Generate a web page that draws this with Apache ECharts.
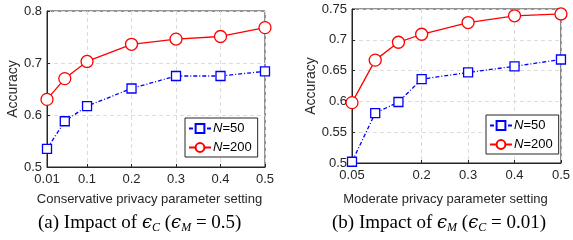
<!DOCTYPE html>
<html>
<head>
  <meta charset="utf-8">
  <title>Accuracy vs privacy parameter</title>
  <script src="https://cdn.jsdelivr.net/npm/echarts@6/dist/echarts.min.js"></script>
  <style>
    html, body { margin: 0; padding: 0; background: #fff; }
    #main { width: 573px; height: 240px; }
  </style>
</head>
<body>
  <div id="main"></div>
  <script type="text/javascript">
    // (a) conservative setting, eps_C on x
    var epsC = [0.01, 0.05, 0.1, 0.2, 0.3, 0.4, 0.5];
    var accC50 = [0.535, 0.588, 0.617, 0.651, 0.675, 0.675, 0.684];
    var accC200 = [0.630, 0.670, 0.703, 0.736, 0.746, 0.751, 0.768];
    var ticksC = [0.01, 0.1, 0.2, 0.3, 0.4, 0.5];

    // (b) moderate setting, eps_M on x
    var epsM = [0.05, 0.1, 0.15, 0.2, 0.3, 0.4, 0.5];
    var accM50 = [0.502, 0.581, 0.599, 0.636, 0.647, 0.657, 0.668];
    var accM200 = [0.598, 0.667, 0.696, 0.709, 0.728, 0.739, 0.742];
    var ticksM = [0.05, 0.2, 0.3, 0.4, 0.5];

    var seriesNames = ['N=50', 'N=200'];

    var myChart = echarts.init(document.getElementById('main'));

    var axisColor = '#262626';
    var sans = 'Liberation Sans, Arial, sans-serif';

    function pairs(xs, ys) {
      return xs.map(function (x, i) { return [x, ys[i]]; });
    }

    // matlab style labels, no trailing zeros
    function shortNum(v) {
      return String(+v.toFixed(3));
    }

    function xAxisOf(idx, ticks, name, gap, shift) {
      return {
        type: 'value',
        gridIndex: idx,
        min: ticks[0],
        max: ticks[ticks.length - 1],
        name: name,
        nameLocation: 'middle',
        nameGap: gap,
        nameTextStyle: { color: axisColor, fontSize: 13, fontFamily: sans, padding: [0, shift, 0, 0] },
        axisLine: { lineStyle: { color: axisColor } },
        axisTick: { inside: true, length: 3, customValues: ticks, lineStyle: { color: axisColor } },
        axisLabel: { customValues: ticks, color: axisColor, fontSize: 13, fontFamily: sans, margin: 6,
          formatter: shortNum },
        splitLine: { show: true, lineStyle: { color: '#dcdcdc', type: [4, 3] } }
      };
    }

    function yAxisOf(idx, min, max, step, gap) {
      return {
        type: 'value',
        gridIndex: idx,
        min: min,
        max: max,
        interval: step,
        name: 'Accuracy',
        nameLocation: 'middle',
        nameGap: gap,
        nameTextStyle: { color: axisColor, fontSize: 14, fontFamily: sans },
        axisLine: { show: true, lineStyle: { color: axisColor } },
        axisTick: { show: true, inside: true, length: 3, lineStyle: { color: axisColor } },
        axisLabel: { color: axisColor, fontSize: 13, fontFamily: sans, margin: 5, formatter: shortNum },
        splitLine: { show: true, lineStyle: { color: '#dcdcdc', type: [4, 3] } }
      };
    }

    function blueSeries(x, y, data) {
      return {
        name: seriesNames[0], type: 'line', xAxisIndex: x, yAxisIndex: y,
        data: data, symbol: 'rect', symbolSize: 9, showAllSymbol: true,
        itemStyle: { color: '#fff', borderColor: '#0000ff', borderWidth: 1.3 },
        lineStyle: { color: '#0000ff', width: 1.3, type: [4, 2, 1, 2] },
        emphasis: { disabled: true }, z: 3
      };
    }

    function redSeries(x, y, data) {
      return {
        name: seriesNames[1], type: 'line', xAxisIndex: x, yAxisIndex: y,
        data: data, symbol: 'circle', symbolSize: 12, showAllSymbol: true,
        itemStyle: { color: '#fff', borderColor: '#ff0000', borderWidth: 1.3 },
        lineStyle: { color: '#ff0000', width: 1.3 },
        emphasis: { disabled: true }, z: 3
      };
    }

    function legendAt(left, top) {
      return {
        data: seriesNames,
        orient: 'vertical',
        left: left,
        top: top,
        backgroundColor: '#fff',
        borderColor: axisColor,
        borderWidth: 1,
        borderRadius: 0,
        padding: [4, 6, 3, 3],
        itemWidth: 22,
        itemHeight: 11,
        itemGap: 6,
        selectedMode: false,
        formatter: function (n) { return n.replace('N', '{i|N}'); },
        textStyle: {
          color: '#000', fontSize: 13, fontFamily: sans, padding: [0, 0, 0, -3],
          rich: { i: { fontStyle: 'italic', fontSize: 13, fontFamily: sans, color: '#000' } }
        }
      };
    }

    var serif = 'Liberation Serif, DejaVu Serif, serif';
    var capRich = {
      t: { fontSize: 19, fontFamily: serif, color: '#000', verticalAlign: 'middle', lineHeight: 20 },
      e: { fontSize: 18, fontFamily: 'DejaVu Serif, serif', fontStyle: 'italic', color: '#000', verticalAlign: 'middle', lineHeight: 20 },
      s: { fontSize: 12, fontFamily: serif, fontStyle: 'italic', color: '#000', verticalAlign: 'bottom', lineHeight: 11 }
    };

    var option = {
      animation: false,
      backgroundColor: '#fff',
      grid: [
        { left: 47, right: 308, top: 11, bottom: 73, show: true, borderColor: axisColor, borderWidth: 1, backgroundColor: 'transparent' },
        { left: 352, right: 9, top: 9, bottom: 77, show: true, borderColor: axisColor, borderWidth: 1, backgroundColor: 'transparent' }
      ],
      xAxis: [
        xAxisOf(0, ticksC, 'Conservative privacy parameter setting', 26, 13),
        xAxisOf(1, ticksM, 'Moderate privacy parameter setting', 30, 22)
      ],
      yAxis: [
        yAxisOf(0, 0.5, 0.8, 0.1, 27),
        yAxisOf(1, 0.5, 0.75, 0.05, 32)
      ],
      legend: [legendAt(185, 118), legendAt(486, 115)],
      series: [
        blueSeries(0, 0, pairs(epsC, accC50)),
        redSeries(0, 0, pairs(epsC, accC200)),
        blueSeries(1, 1, pairs(epsM, accM50)),
        redSeries(1, 1, pairs(epsM, accM200))
      ],
      graphic: [
        {
          type: 'text', left: 38, top: 214,
          style: { text: '{t|(a) Impact of }{e|ϵ}{s|C}{t| (}{e|ϵ}{s|M}{t| = 0.5)}', rich: capRich }
        },
        {
          type: 'text', left: 332, top: 214,
          style: { text: '{t|(b) Impact of }{e|ϵ}{s|M}{t| (}{e|ϵ}{s|C}{t| = 0.01)}', rich: capRich }
        }
      ]
    };

    myChart.setOption(option);
  </script>
</body>
</html>
